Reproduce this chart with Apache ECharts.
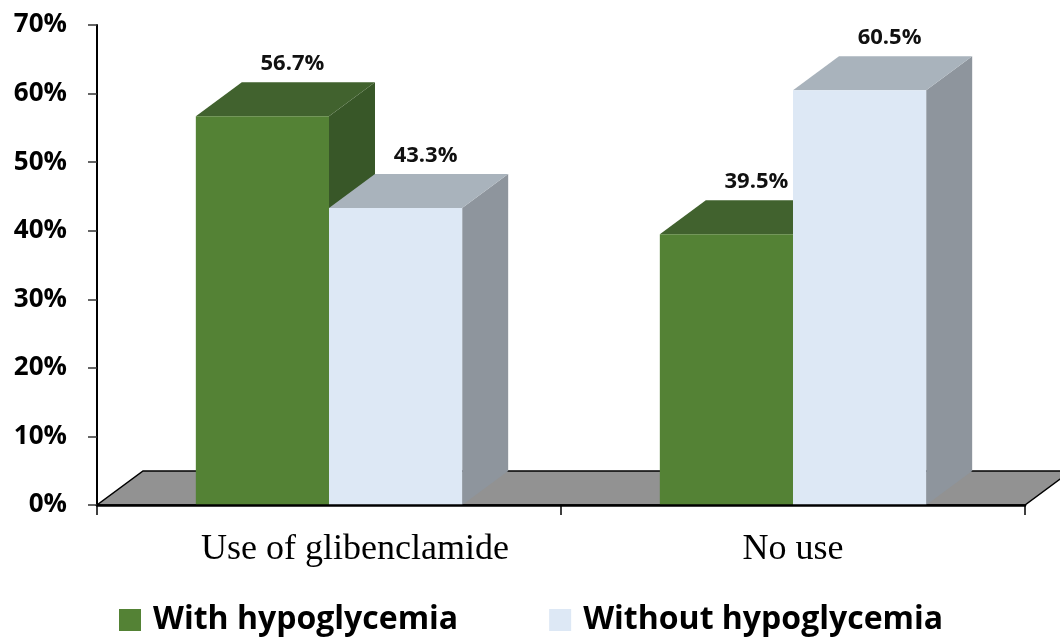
<!DOCTYPE html>
<html>
<head>
<meta charset="utf-8">
<script src="https://cdn.jsdelivr.net/npm/echarts@6/dist/echarts.min.js"></script>
<style>
  html, body { margin: 0; padding: 0; background: #ffffff; }
  #chart { width: 1060px; height: 639px; }
</style>
</head>
<body>
<div id="chart"></div>
<script>
// Share of patients with / without hypoglycemia by glibenclamide use
const categories = ['Use of glibenclamide', 'No use'];
const seriesNames = ['With hypoglycemia', 'Without hypoglycemia'];
const withHypoglycemia = [56.7, 39.5];
const withoutHypoglycemia = [43.3, 60.5];
const yMin = 0, yMax = 70, yStep = 10;

// 3D look: depth offset of the back faces in pixels, bar width as share of a category
const DEPTH_X = 46;
const DEPTH_Y = 34;
const BAR_SHARE = 0.287;
// the first category caption sits a little right of its slot centre
const CAPTION_SHIFT = [52, 0];

const faces = [
  { front: '#548235', top: '#41622e', side: '#385728' },
  { front: '#dde8f5', top: '#a9b3bc', side: '#8e959d' }
];

function barRenderer(slot) {
  return function (params, api) {
    const cat = api.value(0);
    const val = api.value(1);
    const base = api.coord([cat, 0]);
    const head = api.coord([cat, val]);
    const bw = api.size([1, 0])[0] * BAR_SHARE;
    const x0 = slot === 0 ? base[0] - bw : base[0];
    const x1 = x0 + bw;
    const yb = base[1];
    const yt = head[1];
    const c = faces[slot];
    return {
      type: 'group',
      children: [
        {
          type: 'polygon',
          shape: { points: [[x1, yb], [x1 + DEPTH_X, yb - DEPTH_Y], [x1 + DEPTH_X, yt - DEPTH_Y], [x1, yt]] },
          style: { fill: c.side }
        },
        {
          type: 'polygon',
          shape: { points: [[x0, yt], [x0 + DEPTH_X, yt - DEPTH_Y], [x1 + DEPTH_X, yt - DEPTH_Y], [x1, yt]] },
          style: { fill: c.top }
        },
        {
          type: 'rect',
          shape: { x: x0, y: yt, width: bw, height: yb - yt },
          style: { fill: c.front }
        },
        {
          type: 'text',
          x: (x0 + x1) / 2 + 30,
          y: yt - DEPTH_Y - 18,
          z2: 20,
          style: {
            text: val.toFixed(1) + '%',
            fill: '#111',
            font: 'bold 22px "Open Sans"',
            align: 'center',
            verticalAlign: 'middle'
          }
        }
      ]
    };
  };
}

function floorRenderer(params) {
  const cs = params.coordSys;
  const xl = cs.x, xr = cs.x + cs.width, yb = cs.y + cs.height;
  return {
    type: 'polygon',
    shape: {
      points: [[xl, yb], [xr, yb], [xr + DEPTH_X, yb - DEPTH_Y], [xl + DEPTH_X, yb - DEPTH_Y]]
    },
    style: { fill: '#929292', stroke: '#000', lineWidth: 1.5 }
  };
}

const toPairs = arr => arr.map((v, i) => [i, v]);

const chart = echarts.init(document.getElementById('chart'), null, { renderer: 'canvas' });
chart.setOption({
  animation: false,
  backgroundColor: '#ffffff',
  grid: { left: 97, right: 35, top: 25, bottom: 134, containLabel: false },
  legend: {
    data: seriesNames,
    icon: 'rect',
    left: 114,
    top: 599,
    itemWidth: 22,
    itemHeight: 22,
    itemGap: 91,
    textStyle: {
      fontFamily: '"Open Sans"',
      fontWeight: 'bold',
      fontSize: 32,
      color: '#000',
      padding: [0, 0, 0, 7]
    }
  },
  xAxis: {
    type: 'category',
    data: categories.map((c, i) => ({ value: c, textStyle: { padding: [0, 0, 0, CAPTION_SHIFT[i]] } })),
    z: 5,
    axisLine: { lineStyle: { color: '#000', width: 2.5 } },
    axisTick: { show: true, length: 10, lineStyle: { color: '#000', width: 1.5 } },
    axisLabel: {
      margin: 27,
      fontFamily: '"Liberation Serif"',
      fontSize: 36,
      color: '#000'
    },
    splitLine: { show: false }
  },
  yAxis: {
    type: 'value',
    min: yMin,
    max: yMax,
    interval: yStep,
    z: 5,
    axisLine: { show: true, lineStyle: { color: '#000', width: 2 } },
    axisTick: { show: true, length: 9, lineStyle: { color: '#333', width: 1.5 } },
    axisLabel: {
      margin: 30,
      padding: [5, 0, 0, 0],
      formatter: '{value}%',
      fontFamily: '"Open Sans"',
      fontWeight: 'bold',
      fontSize: 26,
      color: '#000'
    },
    splitLine: { show: false }
  },
  series: [
    {
      type: 'custom',
      name: 'floor',
      silent: true,
      z: 1,
      renderItem: floorRenderer,
      data: [[0, 0]],
      encode: { x: 0, y: 1 }
    },
    {
      type: 'custom',
      name: seriesNames[0],
      z: 2,
      itemStyle: { color: faces[0].front },
      renderItem: barRenderer(0),
      data: toPairs(withHypoglycemia),
      encode: { x: 0, y: 1 }
    },
    {
      type: 'custom',
      name: seriesNames[1],
      z: 3,
      itemStyle: { color: faces[1].front },
      renderItem: barRenderer(1),
      data: toPairs(withoutHypoglycemia),
      encode: { x: 0, y: 1 }
    }
  ]
});
</script>
</body>
</html>
